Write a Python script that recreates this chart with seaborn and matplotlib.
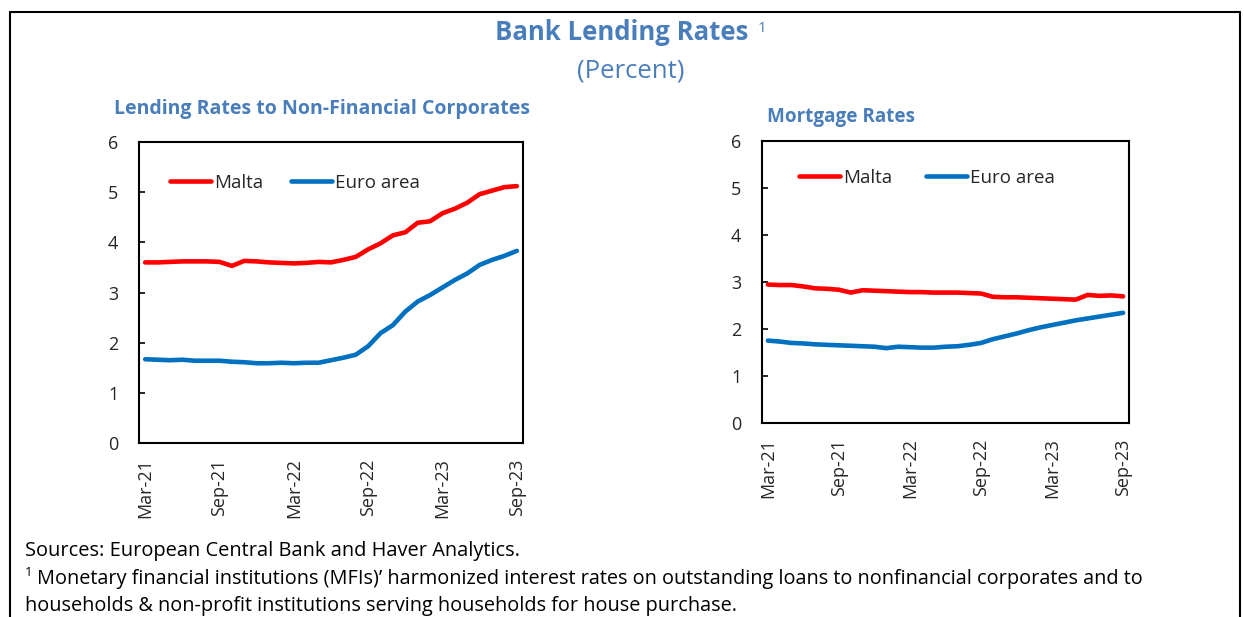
import pandas as pd
import seaborn as sns
import matplotlib.pyplot as plt
from matplotlib.lines import Line2D

# monthly categories, Mar-21 .. Sep-23
months = pd.date_range('2021-03-01', '2023-09-01', freq='MS').strftime('%b-%y').tolist()
tick_labels = ['Mar-21', 'Sep-21', 'Mar-22', 'Sep-22', 'Mar-23', 'Sep-23']

# lending rates to non-financial corporates
nfc_malta = [3.60, 3.60, 3.61, 3.62, 3.62, 3.62, 3.61, 3.53, 3.63, 3.62, 3.60,
             3.59, 3.58, 3.59, 3.61, 3.60, 3.65, 3.71, 3.86, 3.98, 4.14, 4.20,
             4.39, 4.42, 4.58, 4.67, 4.79, 4.96, 5.03, 5.10, 5.12]
nfc_euro = [1.67, 1.66, 1.65, 1.66, 1.64, 1.64, 1.64, 1.62, 1.61, 1.59, 1.59,
            1.60, 1.59, 1.60, 1.60, 1.65, 1.70, 1.76, 1.93, 2.19, 2.35, 2.62,
            2.82, 2.95, 3.10, 3.25, 3.38, 3.55, 3.65, 3.73, 3.83]

# mortgage rates
mort_malta = [2.94, 2.93, 2.93, 2.90, 2.86, 2.85, 2.83, 2.77, 2.82, 2.81, 2.80,
              2.79, 2.78, 2.78, 2.77, 2.77, 2.77, 2.76, 2.75, 2.68, 2.67, 2.67,
              2.66, 2.65, 2.64, 2.63, 2.62, 2.72, 2.70, 2.71, 2.69]
mort_euro = [1.75, 1.73, 1.70, 1.69, 1.67, 1.66, 1.65, 1.64, 1.63, 1.62, 1.59,
             1.62, 1.61, 1.60, 1.60, 1.62, 1.63, 1.66, 1.70, 1.78, 1.84, 1.90,
             1.97, 2.03, 2.08, 2.13, 2.18, 2.22, 2.26, 2.30, 2.34]

series_names = ['Malta', 'Euro area']
colors = {'Malta': '#FF0000', 'Euro area': '#0070C0'}
title_blue = '#4A7EBB'

sns.set_theme(style='white')
plt.rcParams['font.family'] = ['Open Sans', 'DejaVu Sans']


def long_frame(malta, euro):
    n = len(months)
    return pd.DataFrame({
        'pos': list(range(n)) * 2,
        'Month': months * 2,
        'Rate': malta + euro,
        'Series': ['Malta'] * n + ['Euro area'] * n,
    })


def draw_panel(ax, df, leg_xy, colspace):
    sns.lineplot(data=df, x='pos', y='Rate', hue='Series', hue_order=series_names,
                 palette=colors, linewidth=3.3, ax=ax)
    n = len(months)
    ax.set_xlim(-0.5, n - 0.5)
    ax.set_ylim(0, 6)
    ax.set_yticks(range(0, 7))
    label_pos = [months.index(t) for t in tick_labels]
    ax.set_xticks(label_pos)
    ax.set_xticklabels(tick_labels, rotation=90, fontsize=13)
    ax.set_xticks([p - 0.5 for p in label_pos] + [n - 0.5], minor=True)
    ax.tick_params(axis='x', which='major', length=0, pad=11)
    ax.tick_params(axis='x', which='minor', direction='in', length=4, width=1.2, color='black')
    ax.tick_params(axis='y', direction='in', length=4, width=1.2, color='black',
                   labelsize=13, left=True, pad=15)
    ax.set_xlabel('')
    ax.set_ylabel('')
    for sp in ax.spines.values():
        sp.set_visible(True)
        sp.set_color('black')
        sp.set_linewidth(1.5)
    leg = ax.legend(loc='center left', bbox_to_anchor=leg_xy, ncol=2, frameon=False,
                    handlelength=2.2, handletextpad=0.15, columnspacing=colspace,
                    borderpad=0, borderaxespad=0, fontsize=13.5)
    for line in leg.get_lines():
        line.set_linewidth(3.3)


fig = plt.figure(figsize=(12.44, 6.17), dpi=100)

ax1 = fig.add_axes([139 / 1244, 1 - 443 / 617, 384 / 1244, 301 / 617])
draw_panel(ax1, long_frame(nfc_malta, nfc_euro), (0.08, 0.864), 1.5)

ax2 = fig.add_axes([762 / 1244, 1 - 423 / 617, 367 / 1244, 282.5 / 617])
draw_panel(ax2, long_frame(mort_malta, mort_euro), (0.1, 0.868), 1.8)

# titles
fig.text(622 / 1244, 1 - 33 / 617, 'Bank Lending Rates', ha='center', va='center',
         fontsize=18.5, fontweight='bold', color=title_blue)
fig.text(758 / 1244, 1 - 28 / 617, '1', ha='left', va='center', fontsize=11, color=title_blue)
fig.text(631 / 1244, 1 - 71 / 617, '(Percent)', ha='center', va='center',
         fontsize=18.5, color=title_blue)
fig.text(114 / 1244, 1 - 109 / 617, 'Lending Rates to Non-Financial Corporates',
         ha='left', va='center', fontsize=14, fontweight='bold', color=title_blue)
fig.text(767 / 1244, 1 - 117 / 617, 'Mortgage Rates', ha='left', va='center',
         fontsize=13.6, fontweight='bold', color=title_blue)

# notes
fig.text(25 / 1244, 1 - 551 / 617, 'Sources: European Central Bank and Haver Analytics.',
         ha='left', va='center', fontsize=14.4, color='black')
fig.text(25 / 1244, 1 - 572 / 617, '1', ha='left', va='center', fontsize=9.5, color='black')
fig.text(37 / 1244, 1 - 579 / 617,
         'Monetary financial institutions (MFIs)\u2019 harmonized interest rates on outstanding '
         'loans to nonfinancial corporates and to',
         ha='left', va='center', fontsize=14.3, color='black')
fig.text(25 / 1244, 1 - 606 / 617,
         'households & non-profit institutions serving households for house purchase.',
         ha='left', va='center', fontsize=14.3, color='black')

# outer frame (left, top, right)
fx0, fx1, fy1 = 10 / 1244, 1240 / 1244, 1 - 12 / 617
for xs, ys in [([fx0, fx0], [0, fy1]), ([fx0, fx1], [fy1, fy1]), ([fx1, fx1], [fy1, 0])]:
    fig.add_artist(Line2D(xs, ys, color='black', linewidth=1.5))

fig.savefig('out.png', dpi=100)
